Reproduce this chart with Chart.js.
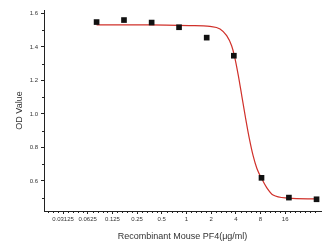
<!DOCTYPE html>
<html lang="en">
  <head>
    <meta charset="utf-8" />
    <title>OD Value vs PF4</title>
    <style>
      * {
        margin: 0;
        padding: 0;
      }
      body {
        background: #fff;
      }
      .chartBox {
        width: 335px;
        height: 246px;
      }
    </style>
  </head>
  <body>
    <div class="chartBox">
      <canvas id="myChart"></canvas>
    </div>

    <script src="https://cdn.jsdelivr.net/npm/chart.js"></script>

    <script>
      // x is log2 of the dose, the axis is labelled with the doses themselves
      const tickLog2 = [-5, -4, -3, -2, -1, 0, 1, 2, 3, 4];
      const tickLabels = ["0.03125", "0.0625", "0.125", "0.25", "0.5", "1", "2", "4", "8", "16"];
      const yTicks = [0.6, 0.8, 1.0, 1.2, 1.4, 1.6];

      // measured points
      const pointLog2 = [-3.64, -2.53, -1.41, -0.30, 0.82, 1.92, 3.04, 4.15, 5.27];
      const pointOD = [1.548, 1.56, 1.545, 1.517, 1.455, 1.347, 0.618, 0.50, 0.49];

      // fitted curve
      const curveLog2 = [-3.64, -1.48, 0.14, 0.95, 1.36, 1.63, 1.83, 1.94, 2.10, 2.25, 2.40, 2.55, 2.70, 2.85, 3.05, 3.25, 3.51, 4.12, 5.27];
      const curveOD = [1.531, 1.531, 1.527, 1.522, 1.507, 1.467, 1.407, 1.348, 1.23, 1.10, 0.97, 0.85, 0.75, 0.675, 0.612, 0.56, 0.515, 0.497, 0.492];

      const toXY = (xs, ys) => xs.map((x, i) => ({ x: x, y: ys[i] }));

      // small extra ticks between the labelled ones
      const minorTicks = {
        id: "minorTicks",
        afterDraw(chart) {
          const { ctx, chartArea: { left, bottom }, scales: { x, y } } = chart;
          ctx.save();
          ctx.strokeStyle = "#222";
          ctx.lineWidth = 1;
          ctx.beginPath();
          for (let v = -5.6; v <= 5.4; v += 0.2) {
            if (Math.abs(v - Math.round(v)) < 0.01 && v <= 4.01) continue;
            const px = Math.round(x.getPixelForValue(v)) + 0.5;
            ctx.moveTo(px, bottom);
            ctx.lineTo(px, bottom + 2);
          }
          for (let v = 0.5; v <= 1.55; v += 0.2) {
            const py = Math.round(y.getPixelForValue(v)) + 0.5;
            ctx.moveTo(left, py);
            ctx.lineTo(left - 2, py);
          }
          ctx.stroke();
          ctx.restore();
        },
      };

      const config = {
        type: "scatter",
        data: {
          datasets: [
            {
              label: "Fit",
              data: toXY(curveLog2, curveOD),
              showLine: true,
              borderColor: "#d0302a",
              borderWidth: 1.2,
              pointRadius: 0,
              cubicInterpolationMode: "monotone",
              order: 2,
            },
            {
              label: "OD",
              data: toXY(pointLog2, pointOD),
              pointStyle: "rect",
              pointRadius: 4,
              backgroundColor: "#111",
              borderColor: "#111",
              borderWidth: 0,
              order: 1,
            },
          ],
        },
        options: {
          responsive: true,
          maintainAspectRatio: false,
          animation: false,
          layout: { padding: { top: 10, right: 14, left: 0, bottom: 0 } },
          plugins: {
            legend: { display: false },
            tooltip: { enabled: false },
          },
          scales: {
            x: {
              type: "linear",
              min: -5.77,
              max: 5.45,
              afterBuildTicks(scale) {
                scale.ticks = tickLog2.map((v) => ({ value: v }));
              },
              afterFit(scale) {
                scale.height = 35;
              },
              grid: {
                display: true,
                drawOnChartArea: false,
                drawTicks: true,
                tickLength: 3,
                color: "#222",
              },
              border: { display: true, color: "#222", width: 1 },
              ticks: {
                autoSkip: false,
                maxRotation: 0,
                padding: 2,
                color: "#333",
                font: { family: "Liberation Sans", size: 6 },
                callback: (value, index) => tickLabels[index],
              },
              title: {
                display: true,
                text: "Recombinant Mouse PF4(μg/ml)",
                color: "#333",
                font: { family: "Liberation Sans", size: 9 },
                padding: { top: 0, bottom: 4 },
              },
            },
            y: {
              min: 0.42,
              max: 1.62,
              afterBuildTicks(scale) {
                scale.ticks = yTicks.map((v) => ({ value: v }));
              },
              afterFit(scale) {
                scale.width = 44;
              },
              grid: {
                display: true,
                drawOnChartArea: false,
                drawTicks: true,
                tickLength: 3,
                color: "#222",
              },
              border: { display: true, color: "#222", width: 1 },
              ticks: {
                padding: 3,
                color: "#333",
                font: { family: "Liberation Sans", size: 6 },
                callback: (value) => value.toFixed(1),
              },
              title: {
                display: true,
                text: "OD Value",
                color: "#333",
                font: { family: "Liberation Sans", size: 9 },
                padding: { top: 14, bottom: 0 },
              },
            },
          },
        },
        plugins: [minorTicks],
      };

      const myChart = new Chart(document.getElementById("myChart"), config);
    </script>
  </body>
</html>
